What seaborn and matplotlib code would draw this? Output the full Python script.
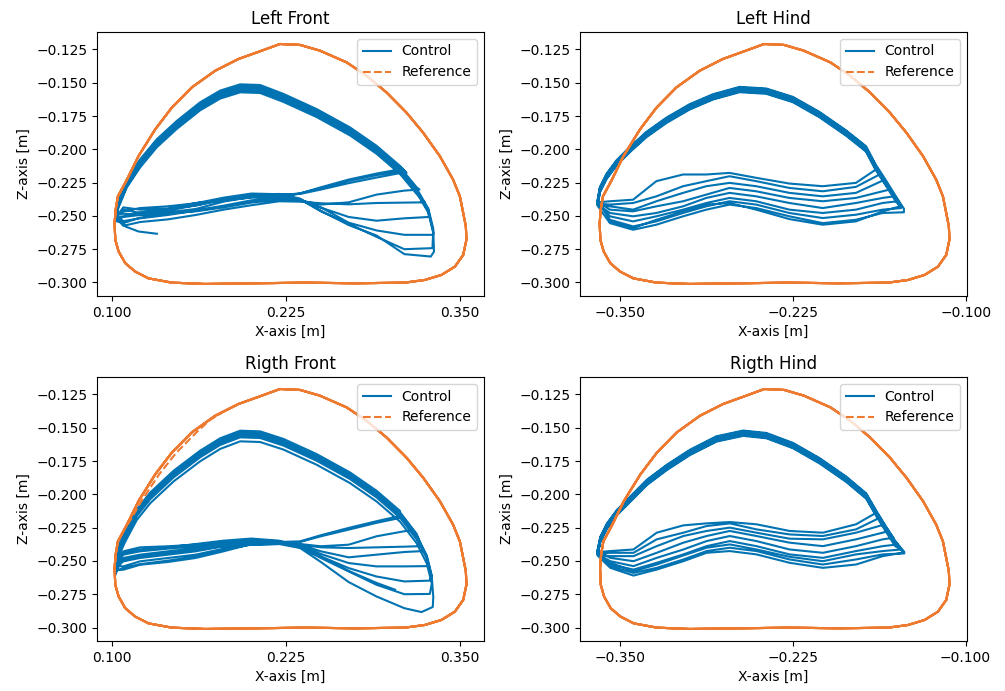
import matplotlib
matplotlib.use("Agg")
import matplotlib.pyplot as plt
import numpy as np
import pandas as pd
import seaborn as sns

CONTROL_COLOR = "#0173b2"
REF_COLOR = "#ee7a30"

titles = ["Left Front", "Left Hind", "Rigth Front", "Rigth Hind"]
front_xticks = [0.100, 0.225, 0.350]
hind_xticks = [-0.350, -0.225, -0.100]
zticks = [-0.300, -0.275, -0.250, -0.225, -0.200, -0.175, -0.150, -0.125]

# ---------------- reference foot loop (front legs), repeated over cycles ----------------
ref_front_x = [0.2206, 0.2350, 0.2493, 0.2685, 0.2828, 0.2972, 0.3115, 0.3235, 0.3355, 0.3450,
               0.3499, 0.3523, 0.3542, 0.3546, 0.3523, 0.3463, 0.3367, 0.3247, 0.3104, 0.2745,
               0.2386, 0.2027, 0.1668, 0.1429, 0.1261, 0.1165, 0.1094, 0.1046, 0.1022, 0.1017,
               0.1025, 0.1041, 0.1106, 0.1189, 0.1309, 0.1429, 0.1572, 0.1740, 0.1907, 0.2075,
               0.2206]
ref_z = [-0.1209, -0.1216, -0.1259, -0.1347, -0.1447, -0.1573, -0.1724, -0.1875, -0.2051, -0.2227,
         -0.2353, -0.2478, -0.2579, -0.2679, -0.2793, -0.2881, -0.2943, -0.2981, -0.3001, -0.3006,
         -0.3001, -0.3006, -0.3011, -0.3001, -0.2969, -0.2918, -0.2855, -0.2767, -0.2679, -0.2554,
         -0.2450, -0.2353, -0.2227, -0.2051, -0.1850, -0.1686, -0.1535, -0.1410, -0.1322, -0.1259,
         -0.1209]
ref_hind_shift = -0.4663
ref_cycles = 9

# deviating reference segment visible in the right-front plot
rf_ref_dev_x = [0.1112, 0.1210, 0.1337, 0.1462, 0.1605, 0.1705, 0.1800]
rf_ref_dev_z = [-0.2227, -0.2051, -0.1850, -0.1686, -0.1535, -0.1440, -0.1380]

# ---------------- stance sampling grids ----------------
front_grid_x = [0.310, 0.290, 0.270, 0.250, 0.235, 0.220, 0.200, 0.180, 0.160, 0.140, 0.120, 0.108]
hind_grid_x = [-0.1456, -0.1600, -0.1793, -0.2033, -0.2274, -0.2514, -0.2707, -0.2875,
               -0.3043, -0.3236, -0.3404, -0.3572]

# ---------------- Left Front control ----------------
lf_arc_x = [0.1022, 0.1045, 0.1105, 0.1201, 0.1321, 0.1465, 0.1632, 0.1776, 0.1920, 0.2063,
            0.2231, 0.2470, 0.2710, 0.2901, 0.3069, 0.3189, 0.3273, 0.3308, 0.3313, 0.3296]
lf_arc_z = [-0.2477, -0.2377, -0.2226, -0.2075, -0.1924, -0.1786, -0.1647, -0.1559, -0.1512, -0.1517,
            -0.1584, -0.1698, -0.1836, -0.1974, -0.2125, -0.2276, -0.2427, -0.2578, -0.2728, -0.2804]
lf_arc_dz = [0.000, -0.002, -0.004, -0.001, -0.006, -0.003, -0.005, -0.002, -0.004]
lf_td_x = [0.3116, 0.3104, 0.3087, 0.3209, 0.3247, 0.3276, 0.3307, 0.3302, 0.3290]
lf_td_z = [-0.2177, -0.2164, -0.2146, -0.2302, -0.2398, -0.2508, -0.2642, -0.2742, -0.2805]
lf_stance_z = [
    [-0.2172, -0.2212, -0.2254, -0.2302, -0.2335, -0.2337, -0.2332, -0.2363, -0.2405, -0.2428, -0.2441, -0.2466],
    [-0.2159, -0.2194, -0.2237, -0.2292, -0.2330, -0.2348, -0.2363, -0.2383, -0.2403, -0.2448, -0.2473, -0.2503],
    [-0.2144, -0.2182, -0.2227, -0.2285, -0.2332, -0.2365, -0.2395, -0.2430, -0.2461, -0.2493, -0.2518, -0.2539],
    [-0.2310, -0.2340, -0.2398, -0.2415, -0.2383, -0.2358, -0.2383, -0.2423, -0.2458, -0.2486, -0.2513, -0.2554],
    [-0.2400, -0.2403, -0.2413, -0.2405, -0.2393, -0.2390, -0.2420, -0.2453, -0.2493, -0.2526, -0.2546, -0.2574],
    [-0.2518, -0.2536, -0.2508, -0.2438, -0.2378, -0.2363, -0.2358, -0.2393, -0.2448, -0.2473, -0.2493, -0.2508],
    [-0.2642, -0.2609, -0.2551, -0.2436, -0.2383, -0.2378, -0.2400, -0.2436, -0.2466, -0.2481, -0.2491, -0.2483],
    [-0.2750, -0.2657, -0.2559, -0.2466, -0.2375, -0.2340, -0.2340, -0.2380, -0.2423, -0.2446, -0.2453, -0.2436],
    [-0.2787, -0.2647, -0.2569, -0.2461, -0.2370, -0.2335, -0.2342, -0.2375, -0.2420, -0.2461, -0.2478, -0.2453],
]
lf_start_x = [0.1321, 0.1189, 0.1094]
lf_start_z = [-0.2634, -0.2617, -0.2579]

# ---------------- Right Front control ----------------
rf_arc_x = [0.1022, 0.1045, 0.1093, 0.1177, 0.1273, 0.1441, 0.1632, 0.1776, 0.1920, 0.2063,
            0.2231, 0.2470, 0.2710, 0.2901, 0.3069, 0.3189, 0.3261, 0.3297, 0.3308, 0.3304]
rf_arc_z = [-0.2528, -0.2389, -0.2276, -0.2112, -0.1987, -0.1823, -0.1672, -0.1579, -0.1522, -0.1527,
            -0.1584, -0.1698, -0.1836, -0.1974, -0.2125, -0.2288, -0.2439, -0.2590, -0.2741, -0.2816]
rf_arc_dz = [0.000, -0.002, -0.003, -0.001, -0.004, -0.002, -0.008, -0.003, -0.005]
rf_td_x = [0.3068, 0.3080, 0.3163, 0.3235, 0.3266, 0.3283, 0.3283, 0.3223, 0.3219]
rf_td_z = [-0.2162, -0.2175, -0.2270, -0.2426, -0.2539, -0.2648, -0.2748, -0.2884, -0.2389]
rf_stance_z = [
    [-0.2159, -0.2202, -0.2252, -0.2307, -0.2353, -0.2358, -0.2348, -0.2358, -0.2378, -0.2390, -0.2398, -0.2428],
    [-0.2172, -0.2214, -0.2265, -0.2315, -0.2358, -0.2373, -0.2378, -0.2390, -0.2415, -0.2441, -0.2466, -0.2491],
    [-0.2277, -0.2315, -0.2378, -0.2390, -0.2373, -0.2358, -0.2365, -0.2408, -0.2453, -0.2478, -0.2503, -0.2541],
    [-0.2433, -0.2453, -0.2473, -0.2428, -0.2378, -0.2358, -0.2373, -0.2428, -0.2478, -0.2508, -0.2529, -0.2566],
    [-0.2541, -0.2541, -0.2516, -0.2448, -0.2383, -0.2353, -0.2340, -0.2365, -0.2403, -0.2428, -0.2453, -0.2478],
    [-0.2654, -0.2617, -0.2554, -0.2466, -0.2390, -0.2348, -0.2332, -0.2348, -0.2373, -0.2398, -0.2415, -0.2441],
    [-0.2750, -0.2679, -0.2579, -0.2478, -0.2398, -0.2365, -0.2365, -0.2390, -0.2428, -0.2453, -0.2478, -0.2503],
    [-0.2855, -0.2767, -0.2659, -0.2508, -0.2403, -0.2373, -0.2378, -0.2415, -0.2466, -0.2498, -0.2524, -0.2554],
    [-0.2393, -0.2398, -0.2403, -0.2398, -0.2378, -0.2358, -0.2358, -0.2373, -0.2390, -0.2408, -0.2428, -0.2453],
]
rf_start_x = [0.3033, 0.290, 0.270, 0.250, 0.235, 0.220, 0.200, 0.180, 0.160, 0.140, 0.120, 0.108]
rf_start_z = [-0.2716, -0.2665, -0.2575, -0.2470, -0.2395, -0.2360, -0.2365, -0.2385, -0.2420, -0.2445, -0.2465, -0.2500]

# ---------------- Left Hind control ----------------
lh_arc_x = [-0.3661, -0.3644, -0.3596, -0.3524, -0.3428, -0.3308, -0.3163, -0.2995, -0.2826, -0.2634,
            -0.2442, -0.2249, -0.2057, -0.1865, -0.1720, -0.1654, -0.1576, -0.1508, -0.1446]
lh_arc_z = [-0.2403, -0.2303, -0.2203, -0.2102, -0.2002, -0.1889, -0.1782, -0.1681, -0.1606, -0.1551,
            -0.1563, -0.1626, -0.1739, -0.1877, -0.1997, -0.2128, -0.2253, -0.2366, -0.2466]
lh_arc_dz = [0.0015, 0.0005, -0.0005, -0.0015, 0.001, -0.001, 0.0, 0.002, -0.002]
lh_td_x = [-0.1648, -0.1622, -0.1597, -0.1548, -0.1517, -0.1492, -0.1466, -0.1446, -0.1475]
lh_td_z = [-0.2151, -0.2189, -0.2227, -0.2302, -0.2353, -0.2390, -0.2441, -0.2473, -0.2428]
lh_stance_z = [
    [-0.2150, -0.2160, -0.2252, -0.2277, -0.2257, -0.2214, -0.2177, -0.2189, -0.2189, -0.2239, -0.2378, -0.2390],
    [-0.2190, -0.2200, -0.2282, -0.2315, -0.2290, -0.2239, -0.2202, -0.2239, -0.2277, -0.2353, -0.2403, -0.2415],
    [-0.2230, -0.2235, -0.2327, -0.2353, -0.2327, -0.2277, -0.2252, -0.2277, -0.2327, -0.2390, -0.2453, -0.2428],
    [-0.2300, -0.2315, -0.2365, -0.2390, -0.2365, -0.2315, -0.2290, -0.2340, -0.2390, -0.2428, -0.2466, -0.2453],
    [-0.2350, -0.2365, -0.2403, -0.2441, -0.2403, -0.2353, -0.2327, -0.2365, -0.2428, -0.2478, -0.2503, -0.2478],
    [-0.2390, -0.2403, -0.2453, -0.2478, -0.2453, -0.2390, -0.2365, -0.2403, -0.2453, -0.2503, -0.2541, -0.2503],
    [-0.2441, -0.2453, -0.2491, -0.2516, -0.2478, -0.2415, -0.2390, -0.2428, -0.2478, -0.2541, -0.2579, -0.2529],
    [-0.2473, -0.2478, -0.2529, -0.2554, -0.2503, -0.2441, -0.2415, -0.2453, -0.2503, -0.2566, -0.2604, -0.2554],
    [-0.2430, -0.2466, -0.2541, -0.2566, -0.2524, -0.2453, -0.2403, -0.2415, -0.2466, -0.2529, -0.2591, -0.2541],
]

# ---------------- Right Hind control ----------------
rh_arc_x = [-0.3664, -0.3644, -0.3596, -0.3524, -0.3428, -0.3308, -0.3163, -0.2995, -0.2803, -0.2610,
            -0.2442, -0.2249, -0.2057, -0.1865, -0.1720, -0.1650, -0.1575, -0.1510, -0.1444]
rh_arc_z = [-0.2439, -0.2338, -0.2238, -0.2137, -0.2037, -0.1911, -0.1798, -0.1685, -0.1584, -0.1541,
            -0.1559, -0.1634, -0.1748, -0.1886, -0.2012, -0.2137, -0.2263, -0.2369, -0.2452]
rh_arc_dz = [0.0015, 0.0005, -0.0005, -0.0015, 0.001, -0.001, 0.0, 0.002, -0.002]
rh_td_x = [-0.1645, -0.1620, -0.1588, -0.1556, -0.1522, -0.1490, -0.1444, -0.1444, -0.1466]
rh_td_z = [-0.2137, -0.2175, -0.2225, -0.2275, -0.2326, -0.2376, -0.2444, -0.2439, -0.2414]
rh_stance_z = [
    [-0.2137, -0.2150, -0.2225, -0.2288, -0.2275, -0.2225, -0.2208, -0.2218, -0.2233, -0.2288, -0.2414, -0.2426],
    [-0.2175, -0.2190, -0.2263, -0.2313, -0.2301, -0.2263, -0.2218, -0.2238, -0.2288, -0.2338, -0.2439, -0.2439],
    [-0.2225, -0.2230, -0.2288, -0.2338, -0.2333, -0.2288, -0.2250, -0.2275, -0.2313, -0.2389, -0.2464, -0.2464],
    [-0.2275, -0.2288, -0.2338, -0.2389, -0.2363, -0.2313, -0.2275, -0.2313, -0.2363, -0.2439, -0.2502, -0.2477],
    [-0.2326, -0.2338, -0.2389, -0.2439, -0.2414, -0.2351, -0.2313, -0.2351, -0.2414, -0.2477, -0.2539, -0.2502],
    [-0.2376, -0.2389, -0.2426, -0.2477, -0.2451, -0.2389, -0.2351, -0.2389, -0.2451, -0.2514, -0.2565, -0.2527],
    [-0.2444, -0.2451, -0.2489, -0.2527, -0.2489, -0.2426, -0.2401, -0.2426, -0.2489, -0.2552, -0.2590, -0.2539],
    [-0.2439, -0.2464, -0.2527, -0.2552, -0.2514, -0.2451, -0.2426, -0.2439, -0.2502, -0.2565, -0.2610, -0.2552],
    [-0.2414, -0.2426, -0.2451, -0.2502, -0.2469, -0.2414, -0.2376, -0.2401, -0.2459, -0.2527, -0.2577, -0.2514],
]


def control_frame(arc_x, arc_z, arc_dz, td_x, td_z, grid_x, stance_z, start_x=(), start_z=()):
    """Concatenate swing arcs and stance paths, one gait cycle after another."""
    xs, zs = list(start_x), list(start_z)
    peak = int(np.argmax(arc_z))
    for dz, tx, tz, sz in zip(arc_dz, td_x, td_z, stance_z):
        for j, (px, pz) in enumerate(zip(arc_x, arc_z)):
            if j <= peak or pz + dz > tz:
                xs.append(px)
                zs.append(pz + dz)
        xs.append(tx)
        zs.append(tz)
        for gx, gz in zip(grid_x, sz):
            if gx < tx:
                xs.append(gx)
                zs.append(gz)
    return pd.DataFrame({"x": xs, "z": zs})


ref_hind_x = [v + ref_hind_shift for v in ref_front_x]
ref_front_df = pd.DataFrame({"x": ref_front_x, "z": ref_z})
ref_hind_df = pd.DataFrame({"x": ref_hind_x, "z": ref_z})

panels = [
    dict(ctrl=control_frame(lf_arc_x, lf_arc_z, lf_arc_dz, lf_td_x, lf_td_z, front_grid_x,
                            lf_stance_z, lf_start_x, lf_start_z),
         ref=ref_front_df, xticks=front_xticks, dev=None),
    dict(ctrl=control_frame(lh_arc_x, lh_arc_z, lh_arc_dz, lh_td_x, lh_td_z, hind_grid_x, lh_stance_z),
         ref=ref_hind_df, xticks=hind_xticks, dev=None),
    dict(ctrl=control_frame(rf_arc_x, rf_arc_z, rf_arc_dz, rf_td_x, rf_td_z, front_grid_x,
                            rf_stance_z, rf_start_x, rf_start_z),
         ref=ref_front_df, xticks=front_xticks,
         dev=pd.DataFrame({"x": rf_ref_dev_x, "z": rf_ref_dev_z})),
    dict(ctrl=control_frame(rh_arc_x, rh_arc_z, rh_arc_dz, rh_td_x, rh_td_z, hind_grid_x, rh_stance_z),
         ref=ref_hind_df, xticks=hind_xticks, dev=None),
]

fig, axes = plt.subplots(2, 2, figsize=(10.05, 6.91), dpi=100)
fig.subplots_adjust(left=0.0965, right=0.9622, bottom=0.0724, top=0.9537, wspace=0.248, hspace=0.307)

for ax, title, p in zip(axes.flat, titles, panels):
    sns.lineplot(data=p["ctrl"], x="x", y="z", sort=False, estimator=None, ax=ax,
                 color=CONTROL_COLOR, linewidth=1.5, label="Control")
    # each reference cycle is traced over the previous ones; dash phases differ per cycle
    for k in range(ref_cycles):
        sns.lineplot(data=p["ref"], x="x", y="z", sort=False, estimator=None, ax=ax,
                     color=REF_COLOR, linewidth=1.5,
                     linestyle=(k * 0.6, (3.7, 1.6)),
                     label="Reference" if k == 0 else None)
    if p["dev"] is not None:
        sns.lineplot(data=p["dev"], x="x", y="z", sort=False, estimator=None, ax=ax,
                     color=REF_COLOR, linewidth=1.5, linestyle="--")
    ax.set_xticks(p["xticks"])
    ax.set_yticks(zticks)
    ax.set_title(title, fontsize=12)
    ax.set_xlabel("X-axis [m]")
    ax.set_ylabel("Z-axis [m]")
    handles, labels = ax.get_legend_handles_labels()
    ax.legend(handles[:2], ["Control", "Reference"], loc="upper right")

fig.savefig("out.png", dpi=100)
